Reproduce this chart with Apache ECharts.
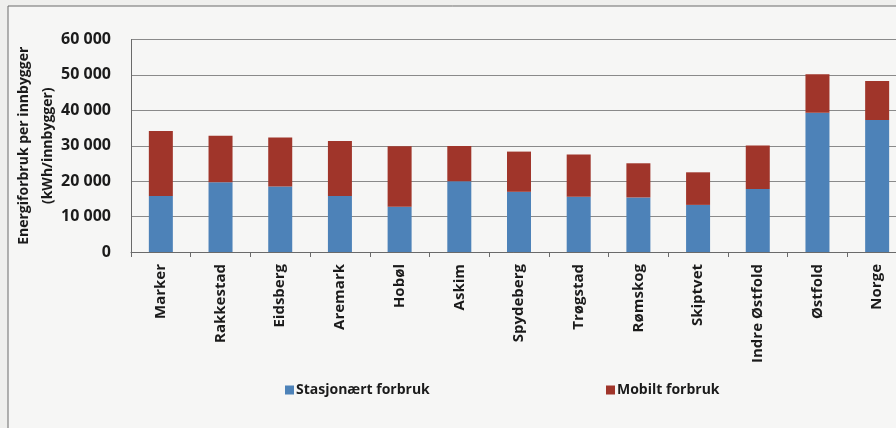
<!DOCTYPE html>
<html>
<head>
<meta charset="utf-8">
<script src="https://cdn.jsdelivr.net/npm/echarts@6/dist/echarts.min.js"></script>
<style>
  html, body { margin: 0; padding: 0; background: #efefed; }
  #chart { width: 896px; height: 428px; }
</style>
</head>
<body>
<div id="chart"></div>
<script>
// kommuner
const kommuner = ["Marker", "Rakkestad", "Eidsberg", "Aremark", "Hobøl", "Askim", "Spydeberg",
  "Trøgstad", "Rømskog", "Skiptvet", "Indre Østfold", "Østfold", "Norge"];

// kWh per innbygger, lest av bildet
const stasjonaert = [15800, 19700, 18500, 15800, 12800, 20000, 17000, 15600, 15400, 13300, 17800, 39300, 37300];
const mobilt = [18400, 13150, 13800, 15550, 17050, 9950, 11350, 11900, 9650, 9200, 12300, 10900, 11000];

const yTicks = [0, 10000, 20000, 30000, 40000, 50000, 60000];

const font = "'Open Sans', sans-serif";
const legendText = { fontSize: 14, fontWeight: "bold", color: "#1b1b1b", fontFamily: font, padding: [0, 0, 0, -3] };

const chart = echarts.init(document.getElementById("chart"));

chart.setOption({
  backgroundColor: "#efefed",
  animation: false,
  textStyle: { fontFamily: font },
  grid: { left: 131, right: -11, top: 39.5, bottom: 176, outerBoundsMode: "none", containLabel: false },
  graphic: [
    {
      type: "rect",
      shape: { x: 8, y: 6, width: 900, height: 430 },
      style: { fill: "#f6f6f5", stroke: "#6a6a6a", lineWidth: 1 },
      z: -10
    }
  ],
  // to separate legender for å treffe plasseringene
  legend: [
    {
      bottom: 26, left: 280, itemWidth: 9, itemHeight: 9, icon: "rect",
      textStyle: legendText, data: ["Stasjonært forbruk"]
    },
    {
      bottom: 26, left: 601, itemWidth: 9, itemHeight: 9, icon: "rect",
      textStyle: legendText, data: ["Mobilt forbruk"]
    }
  ],
  xAxis: {
    type: "category",
    data: kommuner,
    axisLine: { lineStyle: { color: "#6a6a6a" } },
    axisTick: { show: true, length: 5, lineStyle: { color: "#6a6a6a" } },
    axisLabel: {
      rotate: 90,
      interval: 0,
      fontSize: 15,
      fontWeight: "bold",
      color: "#1b1b1b",
      margin: 12
    }
  },
  yAxis: {
    type: "value",
    min: 0,
    max: 60000,
    interval: 10000,
    name: "Energiforbruk per innbygger\n(kWh/innbygger)",
    nameLocation: "middle",
    nameGap: 71,
    nameMoveOverlap: false,
    nameTextStyle: { fontSize: 14, fontWeight: "bold", color: "#1b1b1b", lineHeight: 24 },
    axisLine: { show: true, lineStyle: { color: "#6a6a6a" } },
    axisTick: { show: false },
    splitLine: { lineStyle: { color: "#8a8a8a", width: 1 } },
    axisLabel: {
      fontSize: 16,
      fontWeight: "bold",
      color: "#1b1b1b",
      margin: 20,
      formatter: function (v) {
        return yTicks.indexOf(v) >= 0 && v >= 1000
          ? Math.floor(v / 1000) + " " + String(v % 1000).padStart(3, "0")
          : String(v);
      }
    }
  },
  series: [
    {
      name: "Stasjonært forbruk",
      type: "bar",
      stack: "sum",
      barWidth: 24,
      data: stasjonaert,
      itemStyle: { color: "#4d82b8" }
    },
    {
      name: "Mobilt forbruk",
      type: "bar",
      stack: "sum",
      barWidth: 24,
      data: mobilt,
      itemStyle: { color: "#a0352a" }
    }
  ]
});
</script>
</body>
</html>
